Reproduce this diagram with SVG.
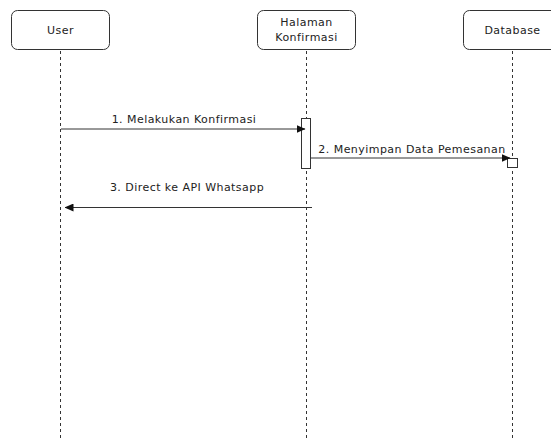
<svg xmlns="http://www.w3.org/2000/svg" width="551" height="439" viewBox="0 0 551 439">
<style>
.box{fill:#fff;stroke:#333;stroke-width:1}
.life{stroke:#333;stroke-width:1;stroke-dasharray:3 3;fill:none}
.msg{stroke:#333;stroke-width:1;fill:none}
.act{fill:#fff;stroke:#333;stroke-width:1}
text{font-family:"DejaVu Sans",Verdana,sans-serif;font-size:11px;letter-spacing:0.45px;fill:#222}
</style>
<defs>
<marker id="arr" markerWidth="9" markerHeight="8" refX="8.5" refY="4" orient="auto" markerUnits="userSpaceOnUse">
<path d="M0,0 L9,4 L0,8 Z" fill="#111"/>
</marker>
</defs>
<g id="lifelines">
<line class="life" x1="60.5" y1="51" x2="60.5" y2="439"/>
<line class="life" x1="306.5" y1="51" x2="306.5" y2="439"/>
<line class="life" x1="512.5" y1="51" x2="512.5" y2="439"/>
</g>
<g id="node-user">
<rect class="box" x="11.5" y="10.5" width="98" height="39" rx="6"/>
<text x="60.5" y="34" text-anchor="middle">User</text>
</g>
<g id="node-halaman">
<rect class="box" x="257.5" y="10.5" width="98" height="39" rx="6"/>
<text x="306.5" y="26" text-anchor="middle">Halaman</text>
<text x="306.5" y="41" text-anchor="middle">Konfirmasi</text>
</g>
<g id="node-database">
<rect class="box" x="463.5" y="10.5" width="98" height="39" rx="6"/>
<text x="512.5" y="34" text-anchor="middle">Database</text>
</g>
<g id="activations">
<rect class="act" x="301.5" y="118.5" width="9" height="50"/>
<rect class="act" x="507.5" y="158.5" width="10" height="9"/>
</g>
<g id="connectors">
<line class="msg" x1="61" y1="129" x2="305" y2="129" marker-end="url(#arr)"/>
<text x="184" y="123" text-anchor="middle">1. Melakukan Konfirmasi</text>
<line class="msg" x1="311" y1="158" x2="510" y2="158" marker-end="url(#arr)"/>
<text x="412" y="153" text-anchor="middle">2. Menyimpan Data Pemesanan</text>
<line class="msg" x1="312" y1="207.5" x2="65" y2="207.5" marker-end="url(#arr)"/>
<text x="187" y="191" text-anchor="middle">3. Direct ke API Whatsapp</text>
</g>
</svg>
